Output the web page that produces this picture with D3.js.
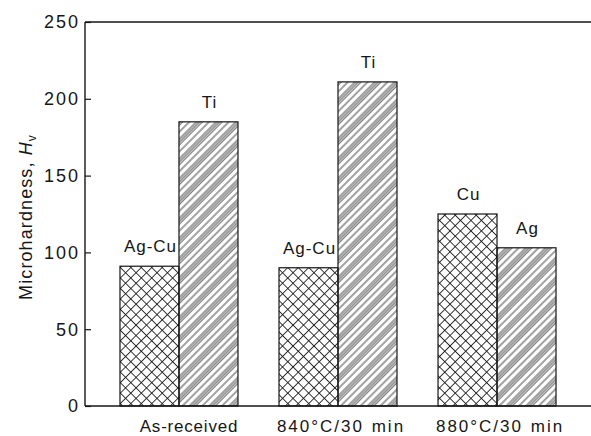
<!DOCTYPE html>
<html>
<head>
<meta charset="utf-8">
<script src="https://cdn.jsdelivr.net/npm/d3@7"></script>
<style>
  body { margin: 0; background: #fff; }
  svg { display: block; font-family: "Liberation Sans", Arial, sans-serif; }
</style>
</head>
<body>
<svg id="chart"></svg>
<script>
// Chart data
const groups = ["As-received", "840\u00B0C/30 min", "880\u00B0C/30 min"];
const firstLabels = ["Ag-Cu", "Ag-Cu", "Cu"];
const firstValues = [91, 90, 125];
const secondLabels = ["Ti", "Ti", "Ag"];
const secondValues = [185, 211, 103];
const yTicks = [0, 50, 100, 150, 200, 250];

const WIDTH = 591, HEIGHT = 436;
const margin = { top: 22, right: 0, bottom: 30, left: 85 };
const INK = "#161616";

const svg = d3.select("#chart")
    .attr("width", WIDTH)
    .attr("height", HEIGHT);

// Patterns: cross-hatch and diagonal multi-line stripes
const defs = svg.append("defs");
const cross = defs.append("pattern")
    .attr("id", "cross")
    .attr("patternUnits", "userSpaceOnUse")
    .attr("width", 7.4).attr("height", 7.4)
    .attr("patternTransform", "rotate(45)");
cross.append("line").attr("x1", 0).attr("y1", 0).attr("x2", 0).attr("y2", 7.4)
    .attr("stroke", INK).attr("stroke-width", 1.7);
cross.append("line").attr("x1", 0).attr("y1", 0).attr("x2", 7.4).attr("y2", 0)
    .attr("stroke", INK).attr("stroke-width", 1.7);

const stripe = defs.append("pattern")
    .attr("id", "stripe")
    .attr("patternUnits", "userSpaceOnUse")
    .attr("width", 14).attr("height", 14)
    .attr("patternTransform", "rotate(45)");
[1, 3.1, 5.2, 10].forEach(x => {
    stripe.append("line").attr("x1", x).attr("y1", 0).attr("x2", x).attr("y2", 14)
        .attr("stroke", INK).attr("stroke-width", 0.8);
});

// Scales
const x = d3.scaleBand()
    .domain(groups)
    .range([margin.left, WIDTH - margin.right])
    .paddingInner(0.258)
    .paddingOuter(0.22);

const xSub = d3.scaleBand()
    .domain([0, 1])
    .range([0, x.bandwidth()]);

const y = d3.scaleLinear()
    .domain([0, 250])
    .range([406, margin.top]);

// Bars
const series = [
    { labels: firstLabels, values: firstValues, fill: "url(#cross)" },
    { labels: secondLabels, values: secondValues, fill: "url(#stripe)" }
];

series.forEach((s, si) => {
    const g = svg.append("g");
    g.selectAll("rect")
        .data(groups)
        .join("rect")
        .attr("x", (d) => x(d) + xSub(si))
        .attr("y", (d, i) => y(s.values[i]))
        .attr("width", xSub.bandwidth())
        .attr("height", (d, i) => y(0) - y(s.values[i]))
        .attr("fill", s.fill)
        .attr("stroke", INK)
        .attr("stroke-width", 1.2);

    g.selectAll("text")
        .data(groups)
        .join("text")
        .attr("x", (d) => x(d) + xSub(si) + xSub.bandwidth() / 2 + 1)
        .attr("y", (d, i) => y(s.values[i]) - 14)
        .attr("text-anchor", "middle")
        .attr("font-size", 17)
        .attr("letter-spacing", 1)
        .attr("fill", INK)
        .text((d, i) => s.labels[i]);
});

// Y axis with inner ticks
const yAxis = svg.append("g")
    .attr("transform", `translate(${margin.left},0)`)
    .call(d3.axisRight(y).tickValues(yTicks).tickSize(6).tickFormat(""));
yAxis.select(".domain").remove();
yAxis.selectAll(".tick line").attr("stroke", INK).attr("stroke-width", 1.2);

svg.selectAll(".ylab")
    .data(yTicks)
    .join("text")
    .attr("class", "ylab")
    .attr("x", margin.left - 5)
    .attr("y", (d) => y(d))
    .attr("dy", "0.36em")
    .attr("text-anchor", "end")
    .attr("font-size", 18)
    .attr("letter-spacing", 2)
    .attr("fill", INK)
    .text((d) => d);

// Frame lines: left, top and bottom
svg.append("line")
    .attr("x1", margin.left).attr("x2", margin.left)
    .attr("y1", y(250)).attr("y2", y(0))
    .attr("stroke", INK).attr("stroke-width", 1.4);
svg.append("line")
    .attr("x1", margin.left).attr("x2", WIDTH)
    .attr("y1", y(250)).attr("y2", y(250))
    .attr("stroke", INK).attr("stroke-width", 1.4);
svg.append("line")
    .attr("x1", margin.left).attr("x2", WIDTH)
    .attr("y1", y(0)).attr("y2", y(0))
    .attr("stroke", INK).attr("stroke-width", 1.4);

// X category labels
svg.selectAll(".xlab")
    .data(groups)
    .join("text")
    .attr("class", "xlab")
    .attr("x", (d, i) => x(d) + x.bandwidth() / 2 + (i === 0 ? 10 : 3))
    .attr("y", 432)
    .attr("text-anchor", "middle")
    .attr("font-size", 17)
    .attr("letter-spacing", (d, i) => i === 0 ? 0.8 : 2)
    .attr("word-spacing", 1)
    .attr("fill", INK)
    .text((d) => d);

// Y axis title
const yTitle = svg.append("text")
    .attr("transform", `translate(32,${(y(0) + y(250)) / 2 + 3}) rotate(-90)`)
    .attr("text-anchor", "middle")
    .attr("font-size", 18)
    .attr("letter-spacing", 1.1)
    .attr("fill", INK);
yTitle.append("tspan").text("Microhardness, ");
yTitle.append("tspan").attr("font-style", "italic").text("H");
yTitle.append("tspan").attr("font-size", 12).attr("dy", 4).text("v");
</script>
</body>
</html>
